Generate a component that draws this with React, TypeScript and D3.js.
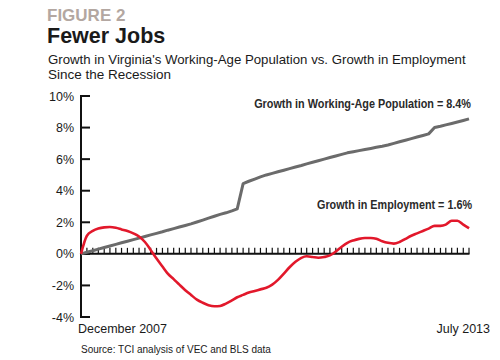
import React, { useLayoutEffect, useRef, useState } from "react";
import * as d3 from "d3";

const months: Date[] = d3.timeMonth.range(new Date(2007, 11, 1), new Date(2013, 7, 1));

const employment: number[] = [
  0, 1.15, 1.45, 1.6, 1.68, 1.7, 1.65, 1.55, 1.45, 1.3,
  1.1, 0.75, 0.25, -0.3, -0.8, -1.25, -1.6, -1.95, -2.3, -2.6,
  -2.9, -3.1, -3.25, -3.32, -3.3, -3.15, -2.95, -2.75, -2.6, -2.45,
  -2.35, -2.25, -2.15, -1.95, -1.65, -1.25, -0.85, -0.5, -0.25, -0.15,
  -0.2, -0.25, -0.2, -0.1, 0.15, 0.45, 0.7, 0.85, 0.95, 1.0,
  1.0, 0.95, 0.8, 0.7, 0.65, 0.75, 0.95, 1.15, 1.3, 1.45,
  1.6, 1.77, 1.77, 1.85, 2.1, 2.1, 1.85, 1.62,
];

const population: number[] = [
  0, 0.1, 0.2, 0.3, 0.4, 0.5, 0.6, 0.7, 0.8, 0.9,
  1.0, 1.1, 1.2, 1.3, 1.4, 1.5, 1.6, 1.7, 1.8, 1.9,
  2.02, 2.14, 2.26, 2.38, 2.5, 2.6, 2.72, 2.85,
  4.45, 4.6, 4.74, 4.88, 5.0, 5.1, 5.2, 5.3,
  5.4, 5.5, 5.6, 5.7, 5.8, 5.9, 6.0, 6.1, 6.2, 6.3,
  6.4, 6.47, 6.54, 6.61, 6.68, 6.75, 6.82, 6.9,
  7.0, 7.1, 7.2, 7.3, 7.4, 7.5, 7.6, 8.0, 8.08, 8.17, 8.26, 8.35, 8.45, 8.55,
];

const yTicks: number[] = [-4, -2, 0, 2, 4, 6, 8, 10];
const xEndLabels: string[] = ["December 2007", "July 2013"];

const title = "FIGURE 2";
const heading = "Fewer Jobs";
const subtitle1 = "Growth in Virginia's Working-Age Population vs. Growth in Employment";
const subtitle2 = "Since the Recession";
const popLabel = "Growth in Working-Age Population = 8.4%";
const empLabel = "Growth in Employment = 1.6%";
const source = "Source: TCI analysis of VEC and BLS data";

function FitText(props: { x: number; y: number; width: number; text: string; fontSize: number; fontWeight?: string; fill: string; anchorEnd?: boolean }) {
  const ref = useRef<SVGTextElement>(null);
  const [sx, setSx] = useState(1);
  useLayoutEffect(() => {
    if (ref.current) {
      const w = ref.current.getComputedTextLength();
      if (w > 0) setSx(props.width / w);
    }
  }, [props.text, props.width]);
  return (
    <g transform={`translate(${props.x},${props.y}) scale(${sx},1)`}>
      <text
        ref={ref}
        x={0}
        y={0}
        fontSize={props.fontSize}
        fontWeight={props.fontWeight}
        fill={props.fill}
        textAnchor={props.anchorEnd ? "end" : "start"}
      >
        {props.text}
      </text>
    </g>
  );
}

export default function App() {
  const W = 500, H = 360;
  const x = d3.scaleTime().domain([months[0], months[months.length - 1]]).range([81, 469]);
  const y = d3.scaleLinear().domain([-4, 10]).range([317, 96]);

  const popLine = d3.line<number>().x((_, i) => x(months[i])).y((d) => y(d));
  const empLine = d3
    .line<number>()
    .x((_, i) => x(months[i]))
    .y((d) => y(d))
    .curve(d3.curveMonotoneX);

  const font = "'Liberation Sans', Arial, sans-serif";

  return (
    <svg
      width={W}
      height={H}
      style={{ position: "absolute", left: 0, top: 0, background: "#fff" }}
      fontFamily={font}
    >
      <rect x={0} y={0} width={W} height={H} fill="#fff" />
      <text x={47} y={21} fontSize={17} fontWeight="bold" fill="#b3a7a1">{title}</text>
      <text x={47} y={43} fontSize={21.5} fontWeight="bold" fill="#1a1a1a">{heading}</text>
      <FitText x={48} y={64} width={418} text={subtitle1} fontSize={13.5} fill="#1a1a1a" />
      <text x={48} y={78.5} fontSize={13.5} fill="#1a1a1a">{subtitle2}</text>

      {/* y axis */}
      <line x1={81} x2={81} y1={y(10)} y2={y(-4)} stroke="#111" strokeWidth={2} />
      {yTicks.map((t) => (
        <g key={t}>
          <line x1={80} x2={90} y1={y(t)} y2={y(t)} stroke="#111" strokeWidth={2} />
          <text x={74} y={y(t) + 4.5} fontSize={12.5} textAnchor="end" fill="#1a1a1a">
            {t}%
          </text>
        </g>
      ))}

      {/* x axis */}
      <line x1={80} x2={469.5} y1={y(0)} y2={y(0)} stroke="#111" strokeWidth={2} />
      {months.map((m, i) =>
        i === 0 ? null : (
          <line key={i} x1={x(m)} x2={x(m)} y1={y(0)} y2={y(0) - 6} stroke="#111" strokeWidth={1.2} />
        )
      )}

      <path d={popLine(population) || ""} fill="none" stroke="#6b6b6b" strokeWidth={3} strokeLinejoin="round" />
      <path d={empLine(employment) || ""} fill="none" stroke="#e2182b" strokeWidth={2.6} strokeLinejoin="round" />

      <FitText x={471} y={108} width={217} text={popLabel} fontSize={13.5} fontWeight="bold" fill="#2a2a2a" anchorEnd />
      <FitText x={472} y={209} width={155} text={empLabel} fontSize={13.5} fontWeight="bold" fill="#2a2a2a" anchorEnd />

      <text x={78} y={333} fontSize={12.5} fill="#1a1a1a">{xEndLabels[0]}</text>
      <text x={490} y={333} fontSize={12.5} textAnchor="end" fill="#1a1a1a">{xEndLabels[1]}</text>

      <text x={81} y={353} fontSize={10} fill="#1a1a1a">{source}</text>
    </svg>
  );
}
